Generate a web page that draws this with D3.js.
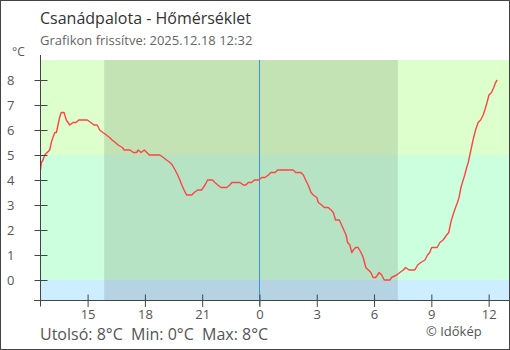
<!DOCTYPE html>
<html><head><meta charset="utf-8">
<script src="https://cdn.jsdelivr.net/npm/d3@7"></script>
<style>
html,body{margin:0;padding:0;background:#fff;}
svg{display:block;font-family:"Open Sans",sans-serif;}
</style></head>
<body>
<script>
const title = "Csanádpalota - Hőmérséklet";
const subtitle = "Grafikon frissítve: 2025.12.18 12:32";
const unit = "°C";
const footer = "Utolsó: 8°C  Min: 0°C  Max: 8°C";
const credit = "© Időkép";
const startDate = "2025-12-17";
const domainStart = "2025-12-17 12:32";
const domainEnd = "2025-12-18 13:04";
const nightStart = "2025-12-17 15:52";
const nightEnd = "2025-12-18 07:15";
const midnight = "2025-12-18 00:00";
const yTicks = [0,1,2,3,4,5,6,7,8];
const xTickHours = ["2025-12-17 15:00","2025-12-17 18:00","2025-12-17 21:00","2025-12-18 00:00","2025-12-18 03:00","2025-12-18 06:00","2025-12-18 09:00","2025-12-18 12:00"];
const bandLimits = [-0.8, 0, 5, 8.8];
const bandColors = ["#cceeff", "#ccffdd", "#ddffcc"];

const times = ["12:32","12:35","12:40","12:45","12:53","13:01","13:06","13:11","13:17","13:22","13:27","13:32","13:37","13:46","13:53","14:04","14:14","14:24","14:32","14:59","15:10","15:20","15:30","15:38","15:48","15:59","16:09","16:17","16:27","16:36","16:49","16:55","17:13","17:24","17:34","17:39","17:48","17:58","18:06","18:14","18:47","18:58","19:08","19:19","19:26","19:35","19:43","19:50","19:56","20:03","20:11","20:19","20:27","20:35","20:46","20:50","20:58","21:09","21:17","21:32","21:40","21:49","21:59","22:17","22:27","22:33","22:59","23:09","23:17","23:25","23:35","23:44","23:58","00:07","00:17","00:28","00:36","00:49","00:57","01:46","01:54","02:10","02:18","02:25","02:33","02:42","02:49","03:00","03:05","03:15","03:24","03:36","03:45","03:52","03:59","04:11","04:18","04:25","04:32","04:37","04:44","04:50","04:55","05:02","05:10","05:19","05:26","05:34","05:42","05:50","05:57","06:05","06:11","06:16","06:24","06:32","06:50","06:55","07:11","07:21","07:32","07:39","07:50","08:08","08:17","08:27","08:40","08:48","08:55","09:01","09:18","09:27","09:37","09:48","09:55","10:01","10:08","10:16","10:22","10:27","10:33","10:40","10:45","10:51","10:56","11:01","11:06","11:11","11:19","11:27","11:35","11:43","11:48","11:55","12:01","12:09","12:16","12:22","12:27"];
const temps = [4.4,4.7,4.8,5.0,5.1,5.2,5.5,5.7,5.9,5.9,6.2,6.5,6.7,6.7,6.4,6.2,6.3,6.3,6.4,6.4,6.3,6.2,6.2,6.0,5.9,5.8,5.7,5.6,5.5,5.4,5.3,5.2,5.2,5.1,5.1,5.2,5.1,5.2,5.1,5.0,5.0,4.9,4.8,4.7,4.6,4.4,4.2,4.0,3.8,3.6,3.4,3.4,3.4,3.5,3.6,3.6,3.6,3.8,4.0,4.0,3.9,3.8,3.7,3.7,3.8,3.9,3.9,3.8,3.8,3.9,3.9,4.0,4.0,4.1,4.1,4.2,4.3,4.3,4.4,4.4,4.3,4.3,4.2,4.0,3.8,3.5,3.4,3.3,3.1,3.0,2.9,2.9,2.8,2.7,2.4,2.4,2.2,2.0,1.8,1.5,1.4,1.1,1.2,1.3,1.3,1.1,0.9,0.5,0.4,0.3,0.1,0.1,0.2,0.3,0.2,0.0,0.0,0.1,0.2,0.3,0.4,0.5,0.4,0.4,0.6,0.7,0.8,1.0,1.1,1.3,1.3,1.5,1.6,1.8,1.9,2.3,2.6,2.9,3.1,3.3,3.7,4.0,4.2,4.5,4.7,5.0,5.3,5.6,6.0,6.3,6.4,6.6,6.8,7.1,7.4,7.5,7.7,7.9,8.0];

(function () {
const parse = d3.timeParse("%Y-%m-%d %H:%M");
let day = parse(startDate + " 00:00");
let prev = -1;
const data = times.map((t, i) => {
  const [h, m] = t.split(":").map(Number);
  const mins = h * 60 + m;
  if (mins < prev) day = d3.timeDay.offset(day, 1);
  prev = mins;
  return {date: d3.timeMinute.offset(day, mins), value: temps[i]};
});

const W = 510, H = 350;
const pL = 40.5, pR = 509, pT = 60, pB = 300;

const svg = d3.select("body").append("svg").attr("width", W).attr("height", H);

const x = d3.scaleTime().domain([parse(domainStart), parse(domainEnd)]).range([pL, pR]);
const y = d3.scaleLinear().domain([bandLimits[0], bandLimits[bandLimits.length - 1]]).range([pB, pT]);

const bands = bandColors.map((c, i) => ({lo: bandLimits[i], hi: bandLimits[i + 1], c}));
svg.selectAll("rect.band").data(bands).enter().append("rect").attr("class", "band")
  .attr("x", pL).attr("width", pR - pL)
  .attr("y", d => y(d.hi)).attr("height", d => y(d.lo) - y(d.hi))
  .attr("fill", d => d.c);

svg.append("rect")
  .attr("x", x(parse(nightStart))).attr("width", x(parse(nightEnd)) - x(parse(nightStart)))
  .attr("y", pT).attr("height", pB - pT)
  .attr("fill", "#000").attr("fill-opacity", 0.11);

const mx = Math.round(x(parse(midnight))) + 0.5;
svg.append("line")
  .attr("x1", mx).attr("x2", mx)
  .attr("y1", pT).attr("y2", pB + 6)
  .attr("stroke", "#3a96d0").attr("stroke-width", 1);

const line = d3.line().x(d => x(d.date)).y(d => y(d.value));
svg.append("path").datum(data)
  .attr("d", line).attr("fill", "none")
  .attr("stroke", "#ff4444").attr("stroke-width", 1.4)
  .attr("stroke-linejoin", "round");

const axisColor = "#444";
const yAxis = d3.axisLeft(y).tickValues(yTicks).tickSize(6).tickFormat(d3.format("d"));
const gy = svg.append("g").attr("transform", `translate(${pL},0)`).call(yAxis);
gy.select(".domain").remove();
gy.selectAll(".tick line").attr("x1", 7).attr("x2", -6).attr("stroke", axisColor);
gy.selectAll(".tick text").attr("x", -26).attr("dy", "0.32em").attr("text-anchor", "end")
  .attr("font-size", 13).attr("fill", "#555").style("font-family", "Open Sans");

const xAxis = d3.axisBottom(x).tickValues(xTickHours.map(parse)).tickSize(6).tickFormat(d3.timeFormat("%-H"));
const gx = svg.append("g").attr("transform", `translate(0,${pB + 0.5})`).call(xAxis);
gx.select(".domain").remove();
gx.selectAll(".tick line").attr("y1", -6).attr("y2", 6.5).attr("stroke", axisColor);
gx.selectAll(".tick text").attr("y", 18.5).attr("dy", 0)
  .attr("font-size", 13).attr("fill", "#555").style("font-family", "Open Sans");

svg.append("line").attr("x1", pL).attr("x2", pL).attr("y1", 55).attr("y2", pB + 6.5)
  .attr("stroke", axisColor);
svg.append("line").attr("x1", 34).attr("x2", pR).attr("y1", pB + 0.5).attr("y2", pB + 0.5)
  .attr("stroke", axisColor);

svg.append("text").attr("x", 40).attr("y", 24).attr("font-size", 16).attr("fill", "#333").text(title);
svg.append("text").attr("x", 40).attr("y", 45).attr("font-size", 13).attr("fill", "#666").text(subtitle);
svg.append("text").attr("x", 12).attr("y", 55.5).attr("font-size", 12).attr("fill", "#555").text(unit);
svg.append("text").attr("x", 40).attr("y", 340).attr("font-size", 16).attr("fill", "#555")
  .style("white-space", "pre").text(footer);
svg.append("text").attr("x", 426).attr("y", 336).attr("font-size", 13).attr("fill", "#555").text(credit);

svg.append("rect").attr("x", 0.5).attr("y", 0.5).attr("width", W - 1).attr("height", H - 1)
  .attr("fill", "none").attr("stroke", "#444");
})();
</script>
</body></html>
